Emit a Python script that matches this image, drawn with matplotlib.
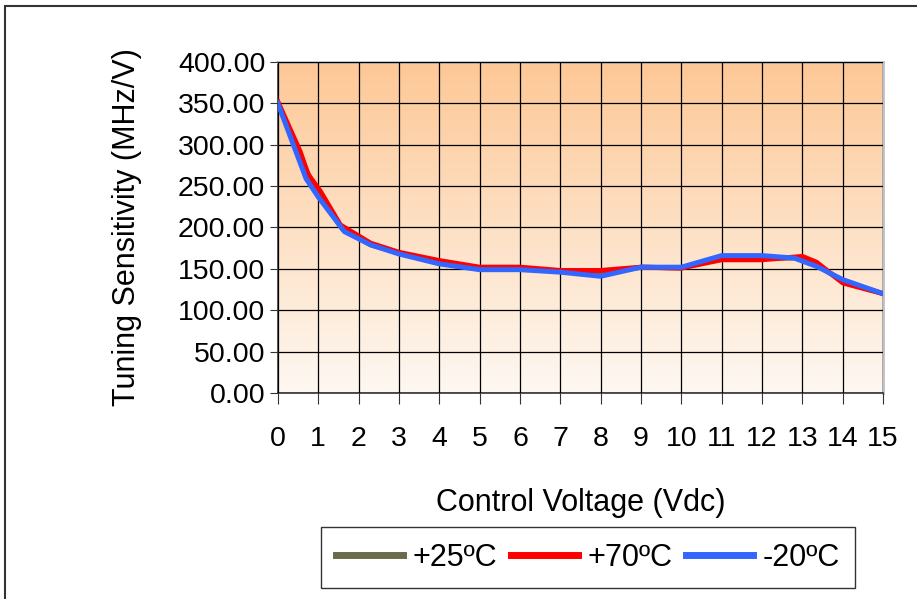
import numpy as np
import matplotlib
matplotlib.use("Agg")
import matplotlib.pyplot as plt
from matplotlib.patches import Rectangle

plt.rcParams['font.family'] = ['Liberation Sans', 'DejaVu Sans']

# -20C curve
x_m20 = [0, 0.7, 1.0, 1.65, 2.3, 3, 4, 5, 6, 7, 8, 9, 10, 11, 12, 12.8, 13.35, 14, 15]
y_m20 = [350, 259, 237, 195, 179, 168, 156, 149, 149, 146, 141, 152, 152, 166, 166, 163, 153, 137, 120]
# +70C curve
x_p70 = [0, 0.55, 0.75, 1.05, 1.55, 2.3, 3, 4, 5, 6, 7, 8, 9, 10, 11, 12, 13, 13.35, 14, 15]
y_p70 = [352, 292, 264, 244, 203, 181, 170, 160, 152, 152, 148, 148, 152, 151, 161, 161, 165, 158, 133, 120]
# +25C curve (hidden under the others)
x_p25 = [0, 0.65, 1.0, 1.6, 2.3, 3, 4, 5, 6, 7, 8, 9, 10, 11, 12, 13, 13.35, 14, 15]
y_p25 = [351, 275, 240, 198, 179, 169, 158, 150, 150, 147, 144, 152, 151, 163, 163, 163, 155, 135, 120]

xticks = list(range(0, 16))
yticks = list(range(0, 401, 50))

fig = plt.figure(figsize=(9.17, 5.99), dpi=100)
ax = fig.add_axes([0.303, 0.344, 0.660, 0.5525])

# background gradient
grad = np.linspace(0, 1, 256).reshape(-1, 1)
top = np.array([253, 200, 150]) / 255.0
bot = np.array([254, 248, 242]) / 255.0
img = bot + (top - bot) * grad[:, :, None]
ax.imshow(img, extent=[0, 15, 0, 400], origin='lower', aspect='auto', zorder=0)

ax.plot(x_p25, y_p25, color='#6b6b4a', lw=3.6, zorder=3, solid_joinstyle='round', label='+25ºC')
ax.plot(x_p70, y_p70, color='#ff0000', lw=3.6, zorder=4, solid_joinstyle='round', label='+70ºC')
ax.plot(x_m20, y_m20, color='#3366ff', lw=3.6, zorder=5, solid_joinstyle='round', label='-20ºC')

ax.set_xlim(0, 15)
ax.set_ylim(0, 400)
ax.set_xticks(xticks)
ax.set_yticks(yticks)
ax.set_yticklabels(["%.2f" % v for v in yticks])
ax.grid(True, color='black', lw=0.9, zorder=1)
ax.set_axisbelow(False)
for gl in ax.get_xgridlines() + ax.get_ygridlines():
    gl.set_zorder(1)

ax.tick_params(axis='both', labelsize=20.5, direction='out', colors='#333333', labelcolor='black')
ax.tick_params(axis='x', length=8, pad=16)
ax.tick_params(axis='y', length=6, pad=3)
for s in ['left', 'bottom']:
    ax.spines[s].set_color('#333333')
    ax.spines[s].set_linewidth(1.2)
for s in ['top', 'right']:
    ax.spines[s].set_color('#c0c0c0')
    ax.spines[s].set_linewidth(2)

ax.set_ylabel('Tuning Sensitivity (MHz/V)', fontsize=22, labelpad=26)
ax.set_xlabel('Control Voltage (Vdc)', fontsize=22, labelpad=26)

leg = fig.legend(loc='center', bbox_to_anchor=(0.641, 0.069), ncol=3, fontsize=22,
                 frameon=True, fancybox=False, edgecolor='black', handlelength=2.2,
                 handletextpad=0.3, columnspacing=0.45, borderpad=0.5)
leg.get_frame().set_linewidth(1.0)
for line in leg.get_lines():
    line.set_linewidth(5)

fig.patches.append(Rectangle((5 / 917, -0.1), 1.2, 1.1 - 6 / 599,
                             transform=fig.transFigure, fill=False,
                             edgecolor='#333333', lw=1.5))

fig.savefig('out.png', dpi=100)
